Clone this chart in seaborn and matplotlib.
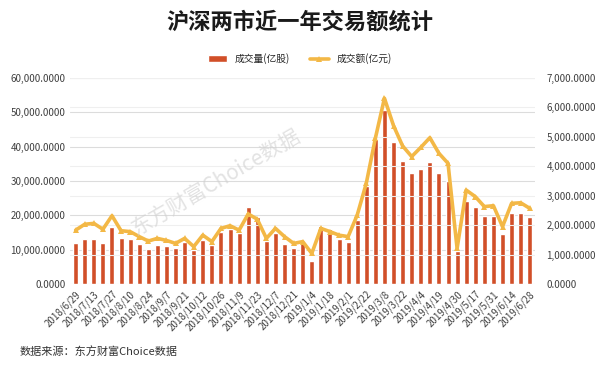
import numpy as np
import pandas as pd
import matplotlib
matplotlib.use("Agg")
import matplotlib.pyplot as plt
import seaborn as sns
from matplotlib.ticker import FuncFormatter, MultipleLocator

# weekly data, 2018/6/29 - 2019/6/28
dates = ["2018/6/29", "2018/7/6", "2018/7/13", "2018/7/20", "2018/7/27", "2018/8/3",
         "2018/8/10", "2018/8/17", "2018/8/24", "2018/8/31", "2018/9/7", "2018/9/14",
         "2018/9/21", "2018/9/28", "2018/10/12", "2018/10/19", "2018/10/26", "2018/11/2",
         "2018/11/9", "2018/11/16", "2018/11/23", "2018/11/30", "2018/12/7", "2018/12/14",
         "2018/12/21", "2018/12/28", "2019/1/4", "2019/1/11", "2019/1/18", "2019/1/25",
         "2019/2/1", "2019/2/15", "2019/2/22", "2019/3/1", "2019/3/8", "2019/3/15",
         "2019/3/22", "2019/3/29", "2019/4/4", "2019/4/12", "2019/4/19", "2019/4/26",
         "2019/4/30", "2019/5/10", "2019/5/17", "2019/5/24", "2019/5/31", "2019/6/6",
         "2019/6/14", "2019/6/21", "2019/6/28"]

volume = [12000, 13100, 13000, 12000, 16500, 13300, 13100, 11600, 10300, 11400,
          11000, 10400, 12200, 9800, 12800, 11400, 15200, 15900, 15000, 22300,
          19400, 12500, 15000, 11700, 10400, 12300, 6700, 17000, 15900, 13100,
          12300, 18600, 28500, 42100, 50700, 41400, 35800, 32200, 33500, 35600,
          32200, 30100, 9600, 24100, 22500, 19900, 19900, 14600, 20800, 20800,
          19400]

amount = [1830, 2030, 2060, 1860, 2320, 1810, 1780, 1610, 1460, 1550,
          1480, 1380, 1550, 1270, 1660, 1440, 1890, 1980, 1830, 2380,
          2200, 1550, 1890, 1610, 1380, 1440, 1040, 1890, 1780, 1660,
          1610, 2340, 3420, 4950, 6310, 5380, 4690, 4330, 4640, 4970,
          4440, 4100, 1210, 3190, 2970, 2630, 2660, 1950, 2740, 2760,
          2570]

df = pd.DataFrame({"date": dates, "volume": volume, "amount": amount})

bar_color = "#D14F28"
line_color = "#F3B846"
cjk = ["Noto Sans CJK SC", "DejaVu Sans"]

sns.set_style("white")
plt.rcParams["font.family"] = cjk

fig = plt.figure(figsize=(6, 3.66), dpi=100)
ax = fig.add_axes([0.117, 0.224, 0.775, 0.563])

sns.barplot(data=df, x="date", y="volume", color=bar_color, width=0.55,
            saturation=1, ax=ax, label="成交量(亿股)")
ax.set_ylim(0, 60000)
ax.yaxis.set_major_locator(MultipleLocator(10000))
ax.yaxis.set_major_formatter(FuncFormatter(lambda v, p: f"{v:,.4f}"))

ax2 = ax.twinx()
sns.lineplot(x=np.arange(len(dates)), y=df["amount"], ax=ax2, color=line_color,
             linewidth=2.6, marker="^", markersize=4, markeredgewidth=0,
             label="成交额(亿元)", legend=False)
ax2.set_ylim(0, 7000)
ax2.yaxis.set_major_locator(MultipleLocator(1000))
ax2.yaxis.set_major_formatter(FuncFormatter(lambda v, p: f"{v:,.4f}"))

# gridlines
for y in range(0, 60001, 10000):
    ax.axhline(y, color="#dcdcdc", lw=0.8, zorder=0)
for y in range(1000, 7001, 1000):
    ax2.axhline(y, color="#efefef", lw=0.8, zorder=0)
ax.set_axisbelow(True)

for a in (ax, ax2):
    for s in a.spines.values():
        s.set_visible(False)
    a.tick_params(length=0, labelsize=7, colors="#404040")
    a.set_xlabel("")
    a.set_ylabel("")
ax2.tick_params(axis="y", pad=8)

ax.set_xticks(np.arange(0, len(dates), 2))
ax.set_xticklabels(dates[::2], rotation=45, ha="right", rotation_mode="anchor",
                   fontsize=7, color="#404040")
ax.set_xlim(-0.6, len(dates) - 0.4)

# legend at top
h1, l1 = ax.get_legend_handles_labels()
h2, l2 = ax2.get_legend_handles_labels()
if ax.get_legend():
    ax.get_legend().remove()
fig.legend(h1 + h2, l1 + l2, loc="center", bbox_to_anchor=(0.5, 0.84), ncol=2,
           frameon=False, handlelength=2, columnspacing=2,
           prop={"family": cjk, "size": 7})

fig.text(0.5, 0.94, "沪深两市近一年交易额统计", ha="center", va="center",
         fontsize=16, fontweight="bold", color="#1a1a1a")
fig.text(0.033, 0.04, "数据来源：东方财富Choice数据", ha="left", va="center",
         fontsize=8, color="#333333")
fig.text(0.36, 0.5, "东方财富Choice数据", ha="center", va="center", rotation=30,
         fontsize=15, color="#d0d0d0", alpha=0.6)

fig.savefig("out.png", dpi=100)
